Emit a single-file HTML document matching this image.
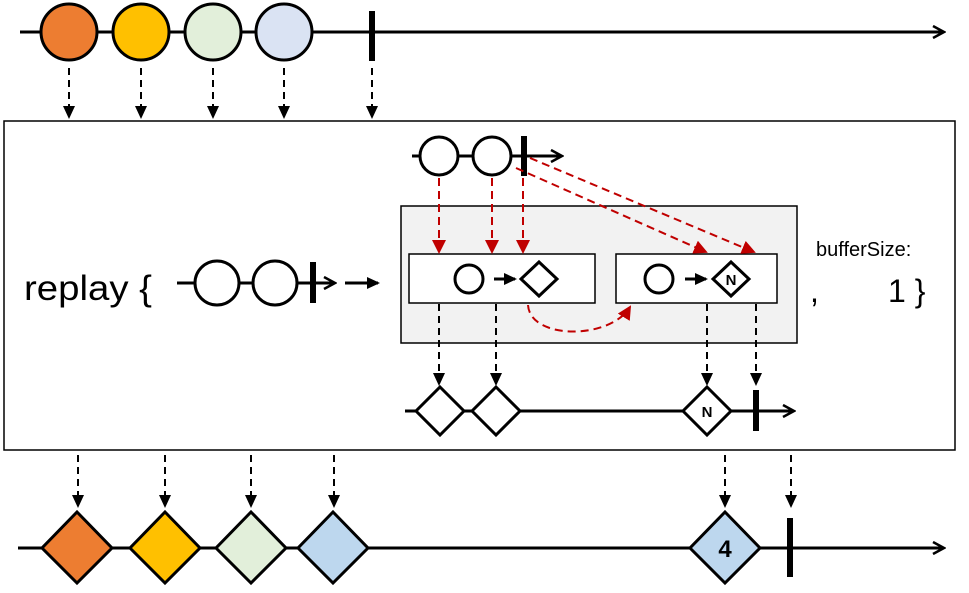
<!DOCTYPE html>
<html><head><meta charset="utf-8"><style>html,body{margin:0;padding:0;background:#fff}svg{display:block}</style></head>
<body>
<svg width="969" height="593" viewBox="0 0 969 593" xmlns="http://www.w3.org/2000/svg" font-family="Liberation Sans, sans-serif">
<defs>
<marker id="ab" markerWidth="14" markerHeight="14" refX="11" refY="7" orient="auto" markerUnits="userSpaceOnUse"><path d="M0,1 L13,7 L0,13 z" fill="#000"/></marker>
<marker id="ar" markerWidth="14" markerHeight="14" refX="12" refY="7" orient="auto" markerUnits="userSpaceOnUse"><path d="M0,0 L14,7 L0,14 z" fill="#c00000"/></marker>
<marker id="ao" markerWidth="14" markerHeight="14" refX="12" refY="7" orient="auto" markerUnits="userSpaceOnUse"><path d="M1,1 L12,7 L1,13" fill="none" stroke="#000" stroke-width="2.5"/></marker>
</defs>
<line x1="20" y1="32" x2="944" y2="32" stroke="#000" stroke-width="3" marker-end="url(#ao)"/>
<g stroke="#000" stroke-width="3">
<circle cx="69" cy="32" r="28" fill="#ED7D31"/>
<circle cx="141" cy="32" r="28" fill="#FFC000"/>
<circle cx="213" cy="32" r="28" fill="#E2EFDA"/>
<circle cx="284" cy="32" r="28" fill="#DAE3F3"/>
</g>
<rect x="369" y="11" width="6" height="50" fill="#000"/>
<g stroke="#000" stroke-width="2" stroke-dasharray="7,5" marker-end="url(#ab)">
<line x1="69" y1="68" x2="69" y2="117"/><line x1="141" y1="68" x2="141" y2="117"/><line x1="213" y1="68" x2="213" y2="117"/><line x1="284" y1="68" x2="284" y2="117"/><line x1="372" y1="68" x2="372" y2="117"/>
</g>
<rect x="4" y="121" width="951" height="329" fill="#fff" stroke="#000" stroke-width="1.5"/>
<text x="24" y="300" font-size="35" textLength="128" lengthAdjust="spacingAndGlyphs">replay {</text>
<line x1="177" y1="283" x2="335" y2="283" stroke="#000" stroke-width="3" marker-end="url(#ao)"/>
<circle cx="217" cy="283" r="22" fill="#fff" stroke="#000" stroke-width="3"/>
<circle cx="275" cy="283" r="22" fill="#fff" stroke="#000" stroke-width="3"/>
<rect x="310" y="262" width="6" height="41" fill="#000"/>
<line x1="345" y1="283" x2="378" y2="283" stroke="#000" stroke-width="3" marker-end="url(#ab)"/>
<text x="816" y="256" font-size="20">bufferSize:</text>
<text x="810" y="302" font-size="32">,</text>
<text x="888" y="302" font-size="32">1 }</text>
<line x1="412" y1="156" x2="562" y2="156" stroke="#000" stroke-width="3" marker-end="url(#ao)"/>
<circle cx="439" cy="156" r="19" fill="#fff" stroke="#000" stroke-width="3"/>
<circle cx="492" cy="156" r="19" fill="#fff" stroke="#000" stroke-width="3"/>
<rect x="521" y="136" width="6" height="40" fill="#000"/>
<rect x="401" y="206" width="396" height="137" fill="#f2f2f2" stroke="#000" stroke-width="1.5"/>
<rect x="409" y="254" width="186" height="49" fill="#fff" stroke="#000" stroke-width="1.5"/>
<rect x="616" y="254" width="161" height="49" fill="#fff" stroke="#000" stroke-width="1.5"/>
<circle cx="469" cy="279" r="14" fill="#fff" stroke="#000" stroke-width="3"/>
<line x1="494" y1="279" x2="515" y2="279" stroke="#000" stroke-width="3" marker-end="url(#ab)"/>
<polygon points="539,262 557,279 539,296 521,279" fill="#fff" stroke="#000" stroke-width="3"/>
<circle cx="659" cy="279" r="14" fill="#fff" stroke="#000" stroke-width="3"/>
<line x1="685" y1="279" x2="706" y2="279" stroke="#000" stroke-width="3" marker-end="url(#ab)"/>
<polygon points="731,262 749,279 731,296 713,279" fill="#fff" stroke="#000" stroke-width="3"/>
<text x="731" y="285" font-size="15" font-weight="bold" text-anchor="middle">N</text>
<g stroke="#c00000" stroke-width="2" stroke-dasharray="8,5" fill="none" marker-end="url(#ar)">
<line x1="439" y1="178" x2="439" y2="252"/>
<line x1="492" y1="178" x2="492" y2="252"/>
<line x1="523" y1="178" x2="523" y2="252"/>
<line x1="516" y1="168" x2="706" y2="252"/>
<line x1="530" y1="158" x2="754" y2="252"/>
<path d="M528,305 C530,340 610,340 630,307"/>
</g>
<g stroke="#000" stroke-width="2" stroke-dasharray="7,5" marker-end="url(#ab)">
<line x1="439" y1="304" x2="439" y2="384"/><line x1="496" y1="304" x2="496" y2="384"/><line x1="707" y1="304" x2="707" y2="384"/><line x1="756" y1="304" x2="756" y2="384"/>
</g>
<line x1="405" y1="411" x2="794" y2="411" stroke="#000" stroke-width="3" marker-end="url(#ao)"/>
<g stroke="#000" stroke-width="3" fill="#fff">
<polygon points="440,387 464,411 440,435 416,411"/>
<polygon points="496,387 520,411 496,435 472,411"/>
<polygon points="707,387 731,411 707,435 683,411"/>
</g>
<text x="707" y="417" font-size="15" font-weight="bold" text-anchor="middle">N</text>
<rect x="753" y="390" width="6" height="41" fill="#000"/>
<g stroke="#000" stroke-width="2" stroke-dasharray="7,5" marker-end="url(#ab)">
<line x1="78" y1="455" x2="78" y2="506"/><line x1="165" y1="455" x2="165" y2="506"/><line x1="251" y1="455" x2="251" y2="506"/><line x1="334" y1="455" x2="334" y2="506"/><line x1="725" y1="455" x2="725" y2="506"/><line x1="791" y1="455" x2="791" y2="506"/>
</g>
<line x1="18" y1="548" x2="944" y2="548" stroke="#000" stroke-width="3" marker-end="url(#ao)"/>
<g stroke="#000" stroke-width="3">
<polygon points="77,512 112,548 77,583 42,548" fill="#ED7D31"/>
<polygon points="165,512 200,548 165,583 130,548" fill="#FFC000"/>
<polygon points="251,512 286,548 251,583 216,548" fill="#E2EFDA"/>
<polygon points="333,512 368,548 333,583 298,548" fill="#BDD7EE"/>
<polygon points="725,512 760,548 725,583 690,548" fill="#BDD7EE"/>
</g>
<text x="725" y="557" font-size="24" font-weight="bold" text-anchor="middle">4</text>
<rect x="787" y="518" width="6" height="59" fill="#000"/>
</svg>
</body></html>
